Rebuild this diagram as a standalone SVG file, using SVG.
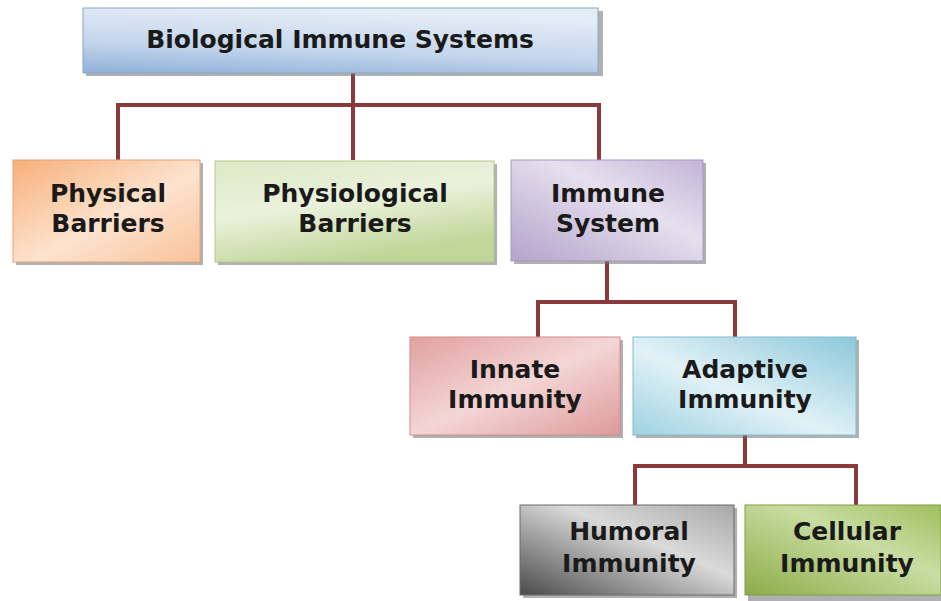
<svg xmlns="http://www.w3.org/2000/svg" width="941" height="601" viewBox="0 0 941 601">
<style>
.shadow{fill:#6f6f6f;opacity:0.55}
.box{stroke-width:1}
.lbl{font-family:"DejaVu Sans","Liberation Sans",sans-serif;font-weight:bold;font-size:25px;fill:#1a1a1a;text-anchor:middle}
.conn{fill:none;stroke:#8a3a3a;stroke-width:4;stroke-linejoin:miter}
</style>
<defs>
<linearGradient id="gTop" x1="0" y1="1" x2="0.3" y2="0">
<stop offset="0" stop-color="#8fb0d8"/><stop offset="0.45" stop-color="#c4d6ec"/><stop offset="1" stop-color="#e4ecf6"/>
</linearGradient>
<linearGradient id="gPhys" x1="0" y1="0" x2="1" y2="1">
<stop offset="0" stop-color="#f7b07a"/><stop offset="0.55" stop-color="#fde3cf"/><stop offset="1" stop-color="#f9c29a"/>
</linearGradient>
<linearGradient id="gPhysio" x1="0" y1="0" x2="0.4" y2="1">
<stop offset="0" stop-color="#dde9c6"/><stop offset="0.5" stop-color="#eaf2dc"/><stop offset="1" stop-color="#c2d69a"/>
</linearGradient>
<linearGradient id="gImm" x1="0" y1="1" x2="1" y2="0">
<stop offset="0" stop-color="#b4a3cb"/><stop offset="0.6" stop-color="#e6e0ee"/><stop offset="1" stop-color="#c3b4d8"/>
</linearGradient>
<linearGradient id="gInn" x1="0" y1="0" x2="1" y2="1">
<stop offset="0" stop-color="#e2a0a0"/><stop offset="0.5" stop-color="#f4d6d6"/><stop offset="1" stop-color="#de9a9a"/>
</linearGradient>
<linearGradient id="gAda" x1="0" y1="1" x2="1" y2="0">
<stop offset="0" stop-color="#9fd2e1"/><stop offset="0.45" stop-color="#e2f2f7"/><stop offset="1" stop-color="#8cc8da"/>
</linearGradient>
<linearGradient id="gHum" x1="0" y1="1" x2="1" y2="0">
<stop offset="0" stop-color="#4a4a4a"/><stop offset="0.6" stop-color="#dadada"/><stop offset="1" stop-color="#a8a8a8"/>
</linearGradient>
<linearGradient id="gCel" x1="0" y1="1" x2="1" y2="0">
<stop offset="0" stop-color="#8cad48"/><stop offset="0.6" stop-color="#c9dda3"/><stop offset="1" stop-color="#9fbf5e"/>
</linearGradient>
</defs>

<g id="connectors">
<path class="conn" d="M353,73 V160"/>
<path class="conn" d="M118,162 V105 H599 V162"/>
<path class="conn" d="M607,261 V302"/>
<path class="conn" d="M538,337 V302 H735 V337"/>
<path class="conn" d="M745,435 V466"/>
<path class="conn" d="M635,505 V466 H856 V505"/>
</g>

<g id="node-biological">
<rect class="shadow" x="86" y="11" width="517" height="65"/>
<rect class="box" x="83" y="8" width="515" height="65" fill="url(#gTop)" stroke="#8aa6c8"/>
<text class="lbl" x="340" y="48">Biological Immune Systems</text>
</g>

<g id="node-physical">
<rect class="shadow" x="16" y="163" width="187" height="102"/>
<rect class="box" x="13" y="160" width="187" height="102" fill="url(#gPhys)" stroke="#e9a472"/>
<text class="lbl" x="108" y="202">Physical</text>
<text class="lbl" x="108" y="232">Barriers</text>
</g>

<g id="node-physiological">
<rect class="shadow" x="218" y="164" width="279" height="101"/>
<rect class="box" x="215" y="161" width="279" height="101" fill="url(#gPhysio)" stroke="#b5ca8c"/>
<text class="lbl" x="355" y="202">Physiological</text>
<text class="lbl" x="355" y="232">Barriers</text>
</g>

<g id="node-immune">
<rect class="shadow" x="514" y="163" width="192" height="101"/>
<rect class="box" x="511" y="160" width="192" height="101" fill="url(#gImm)" stroke="#a897bf"/>
<text class="lbl" x="608" y="202">Immune</text>
<text class="lbl" x="608" y="232">System</text>
</g>

<g id="node-innate">
<rect class="shadow" x="413" y="340" width="210" height="98"/>
<rect class="box" x="410" y="337" width="210" height="98" fill="url(#gInn)" stroke="#d08c8c"/>
<text class="lbl" x="515" y="378">Innate</text>
<text class="lbl" x="515" y="408">Immunity</text>
</g>

<g id="node-adaptive">
<rect class="shadow" x="636" y="340" width="223" height="98"/>
<rect class="box" x="633" y="337" width="223" height="98" fill="url(#gAda)" stroke="#84bccd"/>
<text class="lbl" x="745" y="378">Adaptive</text>
<text class="lbl" x="745" y="408">Immunity</text>
</g>

<g id="node-humoral">
<rect class="shadow" x="523" y="508" width="214" height="90"/>
<rect class="box" x="520" y="505" width="214" height="90" fill="url(#gHum)" stroke="#6a6a6a"/>
<text class="lbl" x="629" y="540">Humoral</text>
<text class="lbl" x="629" y="572">Immunity</text>
</g>

<g id="node-cellular">
<rect class="shadow" x="748" y="508" width="196" height="93"/>
<rect class="box" x="745" y="505" width="196" height="90" fill="url(#gCel)" stroke="#7f9e42"/>
<text class="lbl" x="847" y="540">Cellular</text>
<text class="lbl" x="847" y="572">Immunity</text>
</g>
</svg>
